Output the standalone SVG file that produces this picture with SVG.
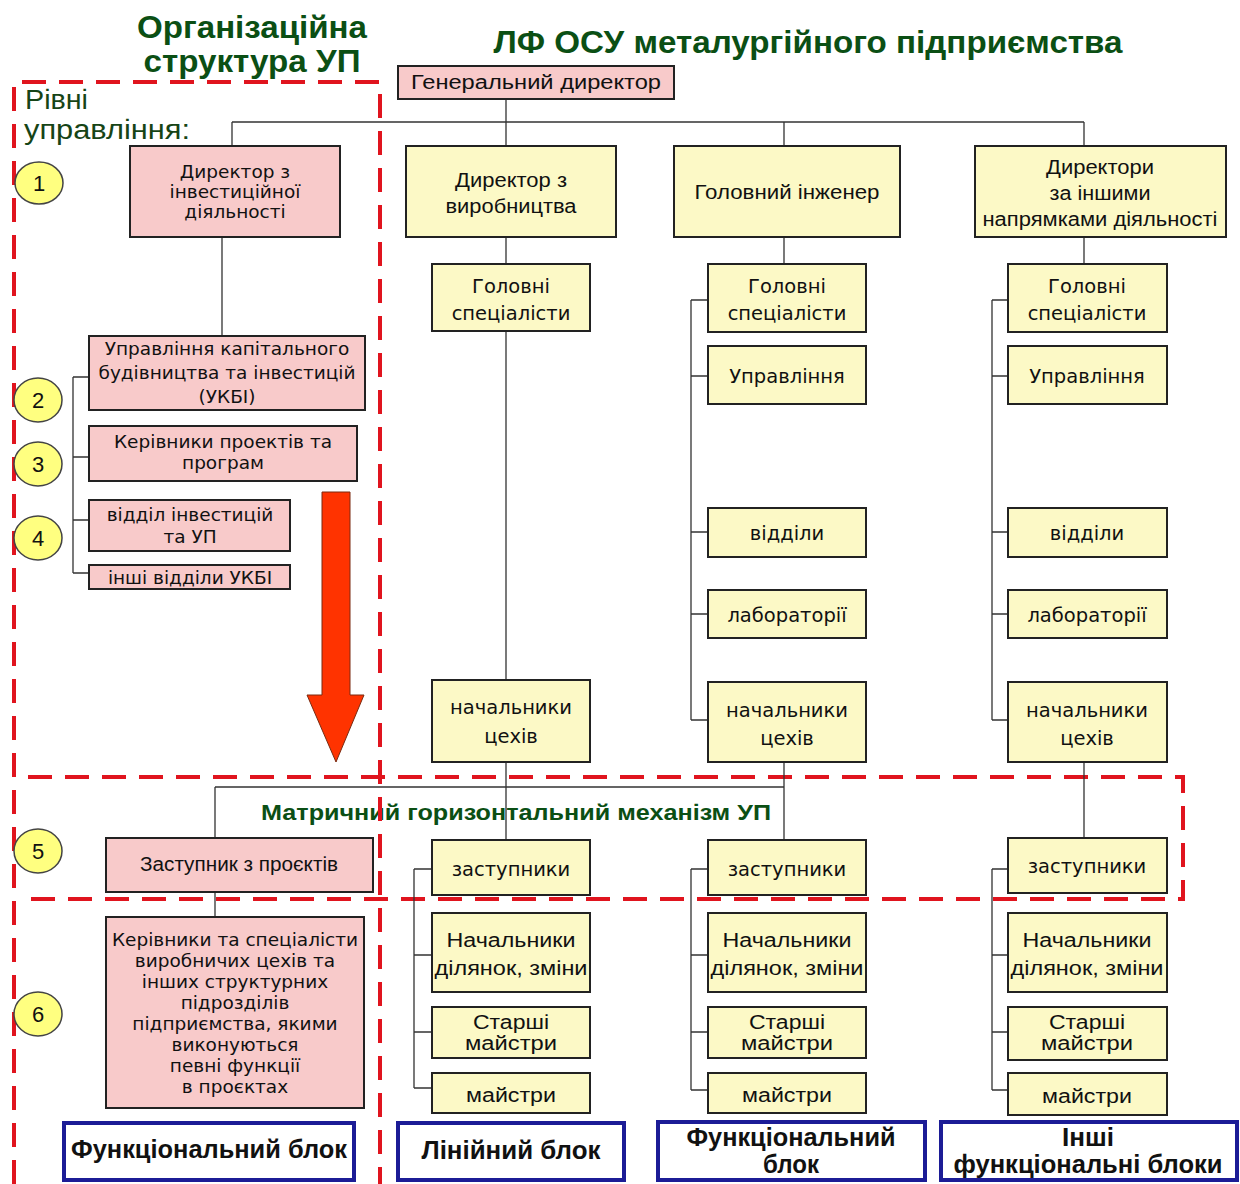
<svg xmlns="http://www.w3.org/2000/svg" width="1240" height="1184" viewBox="0 0 1240 1184">
<style>
text{font-family:"Liberation Sans",Arial,sans-serif;fill:#111}
.t{font-family:"DejaVu Sans","Liberation Sans",sans-serif;font-size:18.5px;text-anchor:middle}
.y{font-family:"DejaVu Sans","Liberation Sans",sans-serif;font-size:19.5px;text-anchor:middle}
.n{font-family:"Liberation Sans",Arial,sans-serif;font-size:20px;text-anchor:middle}
.pk{fill:#f8caca;stroke:#222;stroke-width:2}
.yl{fill:#fcf9c6;stroke:#222;stroke-width:2}
.bl{fill:#fff;stroke:#1c1c96;stroke-width:4}
.ci{fill:#ffff80;stroke:#444;stroke-width:1.5}
.cn{font-size:22px;text-anchor:middle}
.ln{fill:none;stroke:#333;stroke-width:1.3}
.dash{fill:none;stroke:#e0141e;stroke-width:4;stroke-dasharray:24 13}
.ttl{font-weight:bold;fill:#0b4f14;font-size:31px;text-anchor:middle}
.bt{font-size:25px;text-anchor:middle;font-weight:bold}
.lv{font-size:27px;fill:#164416}
</style>

<g id="titles">
<text class="ttl" x="252" y="38" textLength="230" lengthAdjust="spacingAndGlyphs">Організаційна</text>
<text class="ttl" x="252" y="72" textLength="217" lengthAdjust="spacingAndGlyphs">структура УП</text>
<text class="ttl" x="808" y="53" textLength="629" lengthAdjust="spacingAndGlyphs">ЛФ ОСУ металургійного підприємства</text>
<text class="lv" x="25" y="109" textLength="63" lengthAdjust="spacingAndGlyphs">Рівні</text>
<text class="lv" x="24" y="139" textLength="166" lengthAdjust="spacingAndGlyphs">управління:</text>
<text x="516" y="820" style="font-size:22px;font-weight:bold;fill:#0b4f14;text-anchor:middle" textLength="510" lengthAdjust="spacingAndGlyphs">Матричний горизонтальний  механізм УП</text>
</g>

<g id="frames">
<path class="dash" d="M14,1184 V82 H380 V1184"/>
<path class="dash" d="M28,777 H1183 V899 H28"/>
</g>

<g id="connectors">
<path class="ln" d="M506,99 V122 M232,122 H1084 M232,122 V146 M506,122 V146 M784,122 V146 M1084,122 V146"/>
<path class="ln" d="M222,237 V336 M73,377 V573 M73,377 H89 M73,457 H89 M73,520 H89 M73,573 H89"/>
<path class="ln" d="M506,237 V264 M506,331 V680 M506,762 V840"/>
<path class="ln" d="M784,237 V264 M691,300 V720 M691,300 H708 M691,376 H708 M691,532 H708 M691,614 H708 M691,720 H708"/>
<path class="ln" d="M1084,237 V264 M992,300 V720 M992,300 H1008 M992,376 H1008 M992,532 H1008 M992,614 H1008 M992,720 H1008"/>
<path class="ln" d="M784,762 V840 M215,787 H784 M215,787 V838 M215,892 V917 M1084,762 V838"/>
<path class="ln" d="M414,869 V1088 M414,869 H432 M414,955 H432 M414,1032 H432 M414,1088 H432"/>
<path class="ln" d="M691,869 V1090 M691,869 H708 M691,955 H708 M691,1032 H708 M691,1090 H708"/>
<path class="ln" d="M992,869 V1090 M992,869 H1008 M992,955 H1008 M992,1032 H1008 M992,1090 H1008"/>
</g>

<g id="arrow">
<polygon points="322,492 350,492 350,695 364,695 336,762 307,695 322,695" fill="#ff3300" stroke="#7a2a10" stroke-width="1"/>
</g>

<g id="levels">
<ellipse class="ci" cx="39" cy="183" rx="24" ry="21"/><text class="cn" x="39" y="191">1</text>
<ellipse class="ci" cx="38" cy="400" rx="24" ry="22"/><text class="cn" x="38" y="408">2</text>
<ellipse class="ci" cx="38" cy="464" rx="24" ry="22"/><text class="cn" x="38" y="472">3</text>
<ellipse class="ci" cx="38" cy="538" rx="24" ry="22"/><text class="cn" x="38" y="546">4</text>
<ellipse class="ci" cx="38" cy="851" rx="24" ry="22"/><text class="cn" x="38" y="859">5</text>
<ellipse class="ci" cx="38" cy="1014" rx="24" ry="22"/><text class="cn" x="38" y="1022">6</text>
</g>

<g id="gen-director"><rect class="pk" x="398" y="66" width="276" height="33"/><text class="n" x="536" y="89" textLength="250" lengthAdjust="spacingAndGlyphs">Генеральний директор</text></g>

<g id="dir-invest"><rect class="pk" x="130" y="146" width="210" height="91"/>
<text class="t" x="235" y="178">Директор з</text><text class="t" x="235" y="198">інвестиційної</text><text class="t" x="235" y="218">діяльності</text></g>
<g id="ukbi"><rect class="pk" x="89" y="336" width="276" height="74"/>
<text class="t" x="227" y="355">Управління капітального</text><text class="t" x="227" y="379">будівництва та інвестицій</text><text class="t" x="227" y="403">(УКБІ)</text></g>
<g id="kerivnyky-proektiv"><rect class="pk" x="89" y="426" width="268" height="55"/>
<text class="t" x="223" y="448">Керівники проектів та</text><text class="t" x="223" y="469">програм</text></g>
<g id="viddil-invest"><rect class="pk" x="89" y="500" width="201" height="51"/>
<text class="t" x="190" y="521">відділ інвестицій</text><text class="t" x="190" y="543">та УП</text></g>
<g id="inshi-viddily"><rect class="pk" x="89" y="565" width="201" height="24"/>
<text class="t" x="190" y="584">інші відділи УКБІ</text></g>
<g id="zastupnyk-proektiv"><rect class="pk" x="106" y="838" width="267" height="54"/>
<text class="n" x="239" y="871" textLength="198" lengthAdjust="spacingAndGlyphs">Заступник з проєктів</text></g>
<g id="kerivnyky-spets"><rect class="pk" x="106" y="917" width="258" height="191"/>
<text class="t" x="235" y="946">Керівники та спеціалісти</text>
<text class="t" x="235" y="967">виробничих цехів та</text>
<text class="t" x="235" y="988">інших структурних</text>
<text class="t" x="235" y="1009">підрозділів</text>
<text class="t" x="235" y="1030">підприємства, якими</text>
<text class="t" x="235" y="1051">виконуються</text>
<text class="t" x="235" y="1072">певні функції</text>
<text class="t" x="235" y="1093">в проєктах</text></g>

<g id="dir-vyrobn"><rect class="yl" x="406" y="146" width="210" height="91"/>
<text class="n" x="511" y="187" textLength="112" lengthAdjust="spacingAndGlyphs">Директор з</text><text class="n" x="511" y="213" textLength="131" lengthAdjust="spacingAndGlyphs">виробництва</text></g>
<g id="gol-inzhener"><rect class="yl" x="674" y="146" width="226" height="91"/>
<text class="n" x="787" y="199" textLength="185" lengthAdjust="spacingAndGlyphs">Головний інженер</text></g>
<g id="dyrektory-inshi"><rect class="yl" x="975" y="146" width="251" height="91"/>
<text class="n" x="1100" y="174" textLength="108" lengthAdjust="spacingAndGlyphs">Директори</text><text class="n" x="1100" y="200" textLength="101" lengthAdjust="spacingAndGlyphs">за іншими</text><text class="n" x="1100" y="226" textLength="235" lengthAdjust="spacingAndGlyphs">напрямками діяльності</text></g>

<g id="c1-gol-spec"><rect class="yl" x="432" y="264" width="158" height="67"/><text class="y" x="511" y="293">Головні</text><text class="y" x="511" y="320">спеціалісти</text></g>
<g id="c1-nach-tsekhiv"><rect class="yl" x="432" y="680" width="158" height="82"/><text class="y" x="511" y="714">начальники</text><text class="y" x="511" y="743">цехів</text></g>
<g id="c1-zastupnyky"><rect class="yl" x="432" y="840" width="158" height="55"/><text class="y" x="511" y="876">заступники</text></g>
<g id="c1-nach-dil"><rect class="yl" x="432" y="913" width="158" height="79"/><text class="n" x="511" y="947" textLength="129" lengthAdjust="spacingAndGlyphs">Начальники</text><text class="n" x="511" y="975" textLength="153" lengthAdjust="spacingAndGlyphs">ділянок, зміни</text></g>
<g id="c1-starshi"><rect class="yl" x="432" y="1007" width="158" height="51"/><text class="n" x="511" y="1029" textLength="76" lengthAdjust="spacingAndGlyphs">Старші</text><text class="n" x="511" y="1050" textLength="92" lengthAdjust="spacingAndGlyphs">майстри</text></g>
<g id="c1-maistry"><rect class="yl" x="432" y="1073" width="158" height="40"/><text class="n" x="511" y="1102" textLength="90" lengthAdjust="spacingAndGlyphs">майстри</text></g>

<g id="c2-gol-spec"><rect class="yl" x="708" y="264" width="158" height="68"/><text class="y" x="787" y="293">Головні</text><text class="y" x="787" y="320">спеціалісти</text></g>
<g id="c2-upravlinnia"><rect class="yl" x="708" y="346" width="158" height="58"/><text class="y" x="787" y="383">Управління</text></g>
<g id="c2-viddily"><rect class="yl" x="708" y="508" width="158" height="49"/><text class="y" x="787" y="540">відділи</text></g>
<g id="c2-laboratorii"><rect class="yl" x="708" y="590" width="158" height="48"/><text class="y" x="787" y="622">лабораторії</text></g>
<g id="c2-nach-tsekhiv"><rect class="yl" x="708" y="682" width="158" height="80"/><text class="y" x="787" y="717">начальники</text><text class="y" x="787" y="745">цехів</text></g>
<g id="c2-zastupnyky"><rect class="yl" x="708" y="840" width="158" height="55"/><text class="y" x="787" y="876">заступники</text></g>
<g id="c2-nach-dil"><rect class="yl" x="708" y="913" width="158" height="79"/><text class="n" x="787" y="947" textLength="129" lengthAdjust="spacingAndGlyphs">Начальники</text><text class="n" x="787" y="975" textLength="153" lengthAdjust="spacingAndGlyphs">ділянок, зміни</text></g>
<g id="c2-starshi"><rect class="yl" x="708" y="1007" width="158" height="51"/><text class="n" x="787" y="1029" textLength="76" lengthAdjust="spacingAndGlyphs">Старші</text><text class="n" x="787" y="1050" textLength="92" lengthAdjust="spacingAndGlyphs">майстри</text></g>
<g id="c2-maistry"><rect class="yl" x="708" y="1073" width="158" height="40"/><text class="n" x="787" y="1102" textLength="90" lengthAdjust="spacingAndGlyphs">майстри</text></g>

<g id="c3-gol-spec"><rect class="yl" x="1008" y="264" width="159" height="68"/><text class="y" x="1087" y="293">Головні</text><text class="y" x="1087" y="320">спеціалісти</text></g>
<g id="c3-upravlinnia"><rect class="yl" x="1008" y="346" width="159" height="58"/><text class="y" x="1087" y="383">Управління</text></g>
<g id="c3-viddily"><rect class="yl" x="1008" y="508" width="159" height="49"/><text class="y" x="1087" y="540">відділи</text></g>
<g id="c3-laboratorii"><rect class="yl" x="1008" y="590" width="159" height="48"/><text class="y" x="1087" y="622">лабораторії</text></g>
<g id="c3-nach-tsekhiv"><rect class="yl" x="1008" y="682" width="159" height="80"/><text class="y" x="1087" y="717">начальники</text><text class="y" x="1087" y="745">цехів</text></g>
<g id="c3-zastupnyky"><rect class="yl" x="1008" y="838" width="159" height="55"/><text class="y" x="1087" y="873">заступники</text></g>
<g id="c3-nach-dil"><rect class="yl" x="1008" y="913" width="159" height="79"/><text class="n" x="1087" y="947" textLength="129" lengthAdjust="spacingAndGlyphs">Начальники</text><text class="n" x="1087" y="975" textLength="153" lengthAdjust="spacingAndGlyphs">ділянок, зміни</text></g>
<g id="c3-starshi"><rect class="yl" x="1008" y="1007" width="159" height="53"/><text class="n" x="1087" y="1029" textLength="76" lengthAdjust="spacingAndGlyphs">Старші</text><text class="n" x="1087" y="1050" textLength="92" lengthAdjust="spacingAndGlyphs">майстри</text></g>
<g id="c3-maistry"><rect class="yl" x="1008" y="1073" width="159" height="42"/><text class="n" x="1087" y="1103" textLength="90" lengthAdjust="spacingAndGlyphs">майстри</text></g>

<g id="blok-funk-left"><rect class="bl" x="64" y="1123" width="290" height="57"/><text class="bt" x="209" y="1158" textLength="276" lengthAdjust="spacingAndGlyphs">Функціональний блок</text></g>
<g id="blok-liniinyi"><rect class="bl" x="398" y="1123" width="226" height="57"/><text class="bt" x="511" y="1159" textLength="179" lengthAdjust="spacingAndGlyphs">Лінійний блок</text></g>
<g id="blok-funk"><rect class="bl" x="658" y="1122" width="267" height="58"/><text class="bt" x="791" y="1146" textLength="209" lengthAdjust="spacingAndGlyphs">Функціональний</text><text class="bt" x="791" y="1173" textLength="56" lengthAdjust="spacingAndGlyphs">блок</text></g>
<g id="blok-inshi"><rect class="bl" x="941" y="1122" width="296" height="58"/><text class="bt" x="1088" y="1146" textLength="52" lengthAdjust="spacingAndGlyphs">Інші</text><text class="bt" x="1088" y="1173" textLength="269" lengthAdjust="spacingAndGlyphs">функціональні блоки</text></g>
</svg>
